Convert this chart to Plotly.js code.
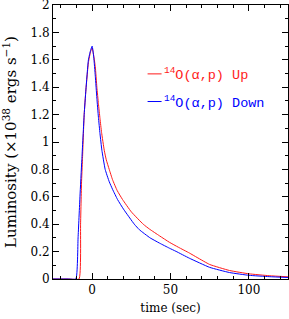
<!DOCTYPE html>
<html><head><meta charset="utf-8">
<script src="https://cdn.plot.ly/plotly-3.0.1.min.js"></script>
<style>html,body{margin:0;padding:0;background:#fff}</style>
</head><body><div id="plot" style="width:289px;height:319px"></div>
<script>
var upTime = [-25, -15, -8.4, -7.4, -6.8, -6.2, -5.1, -4, -2.4, -1, 0, 1, 2, 3, 4, 5, 6, 7.7, 9, 10.9, 13, 16, 19.4, 25, 32.6, 36.5, 43, 49.3, 55, 62, 67, 75, 87.7, 100, 113, 125];
var upLum  = [0, 0, 0, 0.4, 0.7, 0.87, 1.2, 1.38, 1.58, 1.66, 1.685, 1.63, 1.55, 1.40, 1.28, 1.17, 1.07, 0.94, 0.87, 0.80, 0.725, 0.645, 0.58, 0.49, 0.40, 0.365, 0.315, 0.268, 0.232, 0.19, 0.157, 0.106, 0.062, 0.038, 0.024, 0.016];
var downTime = [-25, -15, -10.4, -9, -7.8, -6.6, -5.1, -4, -2.4, -1, 0, 1, 2, 3, 4, 5, 6.2, 8.3, 10.9, 13, 16.2, 20, 26.9, 30.1, 37, 43, 49.3, 53.5, 62, 75, 87.7, 100, 113, 125];
var downLum  = [0, 0, 0, 0.3, 0.6, 0.87, 1.2, 1.38, 1.6, 1.67, 1.70, 1.62, 1.48, 1.32, 1.18, 1.06, 0.94, 0.80, 0.71, 0.655, 0.58, 0.51, 0.40, 0.36, 0.30, 0.262, 0.225, 0.202, 0.152, 0.085, 0.047, 0.027, 0.017, 0.011];
var xTicks = [0, 50, 100];
var yTicks = [0, 0.2, 0.4, 0.6, 0.8, 1, 1.2, 1.4, 1.6, 1.8, 2];
var yTickText = ['0', '0.2', '0.4', '0.6', '0.8', '1', '1.2', '1.4', '1.6', '1.8', '2'];
var seriesNames = ['<sup>14</sup>O(α,p) Up', '<sup>14</sup>O(α,p) Down'];
var seriesColors = ['#ff1a1a', '#0000ff'];

var traces = [
  {x: upTime, y: upLum, mode: 'lines', line: {color: seriesColors[0], width: 1, shape: 'spline', smoothing: 0.4}, name: seriesNames[0]},
  {x: downTime, y: downLum, mode: 'lines', line: {color: seriesColors[1], width: 1, shape: 'spline', smoothing: 0.4}, name: seriesNames[1]}
];
var fnt = {family: 'DejaVu Serif, serif', size: 12, color: '#000'};
var axisCommon = {
  showline: true, linecolor: '#000', linewidth: 1, mirror: 'allticks',
  ticks: 'inside', ticklen: 6, tickcolor: '#000', tickwidth: 1,
  zeroline: false, showgrid: false, tickfont: fnt, ticklabeloverflow: 'allow'
};
var layout = {
  width: 289, height: 319,
  margin: {l: 53, r: 1, t: 5, b: 40},
  paper_bgcolor: '#fff', plot_bgcolor: '#fff',
  showlegend: false,
  font: fnt,
  xaxis: Object.assign({}, axisCommon, {
    range: [-25, 125], tickmode: 'array', tickvals: xTicks,
    minor: {dtick: 10, tick0: 0, ticks: 'inside', ticklen: 3, tickcolor: '#000'},
    title: {text: 'time (sec)', font: fnt, standoff: 7}
  }),
  yaxis: Object.assign({}, axisCommon, {
    range: [0, 2], tickmode: 'array', tickvals: yTicks, ticktext: yTickText,
    minor: {dtick: 0.1, tick0: 0, ticks: 'inside', ticklen: 3, tickcolor: '#000'},
    title: {text: 'Luminosity (×10<sup>38</sup> ergs s<sup>−1</sup>)', font: {family: 'DejaVu Serif, serif', size: 15, color: '#000'}, standoff: 10}
  }),
  shapes: [
    {type: 'line', xref: 'paper', yref: 'paper', x0: 0.4025, x1: 0.462, y0: 0.7486, y1: 0.7486, line: {color: seriesColors[0], width: 1}},
    {type: 'line', xref: 'paper', yref: 'paper', x0: 0.4025, x1: 0.462, y0: 0.6477, y1: 0.6477, line: {color: seriesColors[1], width: 1}}
  ],
  annotations: [
    {xref: 'paper', yref: 'paper', x: 0.462, y: 0.7486, xanchor: 'left', yanchor: 'middle', text: seriesNames[0], showarrow: false, font: {family: 'Liberation Mono, monospace', size: 13.5, color: seriesColors[0]}},
    {xref: 'paper', yref: 'paper', x: 0.462, y: 0.6477, xanchor: 'left', yanchor: 'middle', text: seriesNames[1], showarrow: false, font: {family: 'Liberation Mono, monospace', size: 13.5, color: seriesColors[1]}}
  ]
};
Plotly.newPlot('plot', traces, layout, {displayModeBar: false, staticPlot: true});
</script></body></html>
